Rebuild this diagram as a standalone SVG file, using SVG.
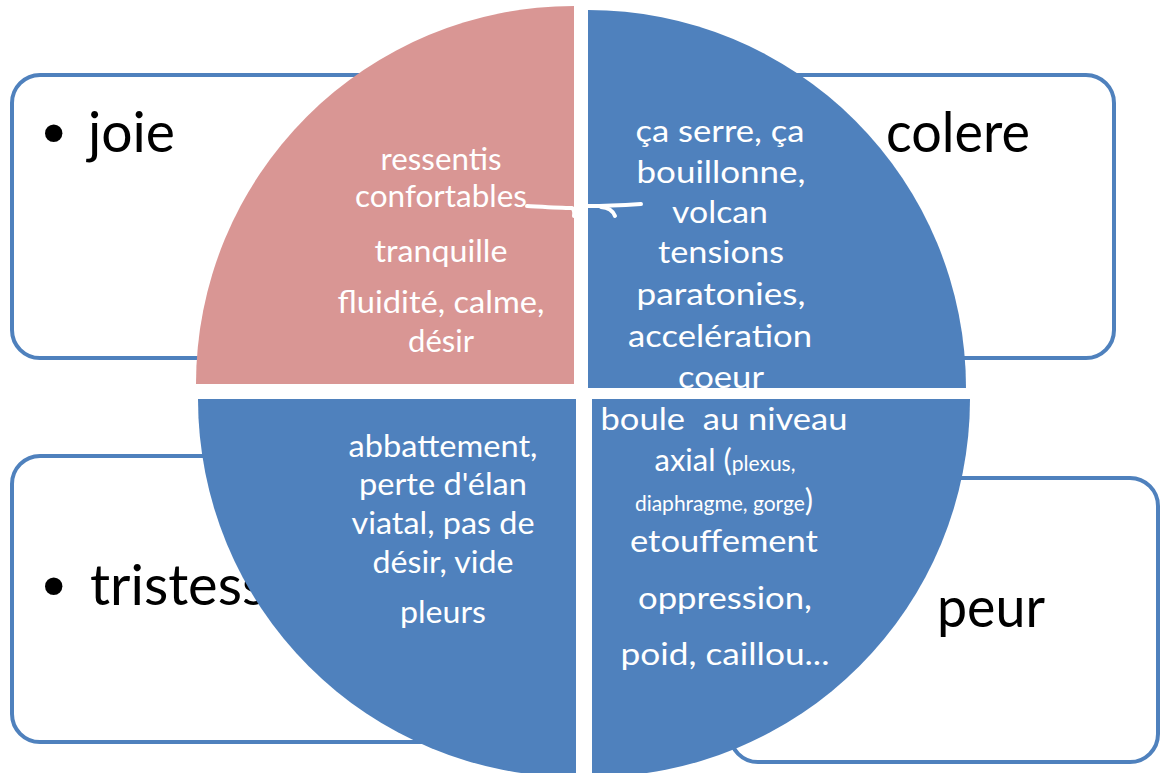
<svg xmlns="http://www.w3.org/2000/svg" width="1162" height="773" viewBox="0 0 1162 773">
<style>
.box{fill:#fff;stroke:#4F81BD;stroke-width:4}
.big{font-family:Lato,"Liberation Sans",sans-serif;font-size:56px;fill:#000}
.bul{font-family:"DejaVu Sans",sans-serif;font-size:60px;fill:#000}
.q{font-family:Lato,"Liberation Sans",sans-serif;font-size:31px;fill:#fff;text-anchor:middle}
.s{font-size:21px}
.pink{fill:#D99694}
.blue{fill:#4F81BD}
</style>
<defs>
<clipPath id="clipTR"><rect x="580" y="0" width="400" height="388"/></clipPath>
</defs>
<g id="box-joie">
<rect class="box" x="12" y="75" width="500" height="283" rx="28"/>
<text class="bul" x="36" y="156">•</text>
<text class="big" x="88" y="152" textLength="87" lengthAdjust="spacingAndGlyphs">joie</text>
</g>
<g id="box-colere">
<rect class="box" x="650" y="75" width="464" height="283" rx="28"/>
<text class="bul" x="834" y="156">•</text>
<text class="big" x="886" y="152" textLength="144" lengthAdjust="spacingAndGlyphs">colere</text>
</g>
<g id="box-tristesse">
<rect class="box" x="12" y="456" width="500" height="286" rx="28"/>
<text class="bul" x="36" y="609">•</text>
<text class="big" x="90" y="605">tristesse</text>
</g>
<g id="box-peur">
<rect class="box" x="730" y="478" width="428" height="284" rx="28"/>
<text class="bul" x="868" y="631">•</text>
<text class="big" x="937" y="627" textLength="108" lengthAdjust="spacingAndGlyphs">peur</text>
</g>
<g id="q-joie">
<path class="pink" d="M574,384 L196,384 A378,378 0 0 1 574,6 Z"/>
<text class="q" x="441" y="170" textLength="121" lengthAdjust="spacingAndGlyphs">ressentis</text>
<text class="q" x="441" y="207" textLength="172" lengthAdjust="spacingAndGlyphs">confortables</text>
<text class="q" x="441" y="262" textLength="133" lengthAdjust="spacingAndGlyphs">tranquille</text>
<text class="q" x="441" y="313" textLength="207" lengthAdjust="spacingAndGlyphs">fluidité, calme,</text>
<text class="q" x="441" y="352" textLength="66" lengthAdjust="spacingAndGlyphs">désir</text>
</g>
<g id="q-colere">
<path class="blue" d="M588,388 L588,10 A378,378 0 0 1 966,388 Z"/>
<g clip-path="url(#clipTR)">
<text class="q" x="720" y="142" textLength="169" lengthAdjust="spacingAndGlyphs">ça serre, ça</text>
<text class="q" x="721" y="183" textLength="169" lengthAdjust="spacingAndGlyphs">bouillonne,</text>
<text class="q" x="720" y="223" textLength="96" lengthAdjust="spacingAndGlyphs">volcan</text>
<text class="q" x="721" y="263" textLength="126" lengthAdjust="spacingAndGlyphs">tensions</text>
<text class="q" x="721" y="305" textLength="169" lengthAdjust="spacingAndGlyphs">paratonies,</text>
<text class="q" x="720" y="347" textLength="184" lengthAdjust="spacingAndGlyphs">accelération</text>
<text class="q" x="721" y="388" textLength="86" lengthAdjust="spacingAndGlyphs">coeur</text>
</g>
</g>
<g id="q-tristesse">
<path class="blue" d="M576,399 L576,777 A378,378 0 0 1 198,399 Z"/>
<text class="q" x="443" y="457" textLength="189" lengthAdjust="spacingAndGlyphs">abbattement,</text>
<text class="q" x="443" y="495" textLength="168" lengthAdjust="spacingAndGlyphs">perte d'élan</text>
<text class="q" x="443" y="534" textLength="183" lengthAdjust="spacingAndGlyphs">viatal, pas de</text>
<text class="q" x="443" y="573" textLength="141" lengthAdjust="spacingAndGlyphs">désir, vide</text>
<text class="q" x="443" y="623" textLength="86" lengthAdjust="spacingAndGlyphs">pleurs</text>
</g>
<g id="q-peur">
<path class="blue" d="M592,399 L970,399 A378,378 0 0 1 592,777 Z"/>
<text class="q" x="724" y="430" textLength="247" lengthAdjust="spacingAndGlyphs">boule&#160; au niveau</text>
<text class="q" x="725" y="471">axial (<tspan class="s">plexus,</tspan></text>
<text class="q" x="724" y="511"><tspan class="s">diaphragme, gorge</tspan>)</text>
<text class="q" x="724" y="552" textLength="188" lengthAdjust="spacingAndGlyphs">etouffement</text>
<text class="q" x="725" y="609" textLength="174" lengthAdjust="spacingAndGlyphs">oppression,</text>
<text class="q" x="725" y="665" textLength="209" lengthAdjust="spacingAndGlyphs">poid, caillou...</text>
</g>
<g id="annotation" fill="none" stroke="#fff" stroke-width="4" stroke-linecap="round" stroke-linejoin="round">
<path d="M527,206 C545,207 560,208 572,208 Q575,210 574,216"/>
<path d="M588,206 C605,206 625,205 641,204"/>
<path d="M601,207 Q612,208 615,216"/>
</g>
</svg>
